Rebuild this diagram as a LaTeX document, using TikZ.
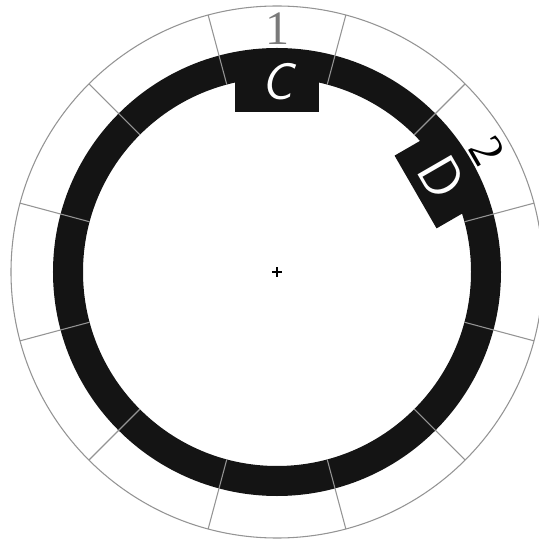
\documentclass[tikz,border=0pt]{standalone}
\usepackage{fontspec}
\setmainfont{Liberation Serif}
\begin{document}
\begin{tikzpicture}[
    x=0.75pt, y=0.75pt,
    ring/.style={draw=black!92, line width=22.5pt},
    rim/.style={draw=black!42, line width=0.8pt},
    spoke/.style={draw=black!42, line width=0.8pt},
    number/.style={inner sep=0pt, font=\fontsize{36}{36}\selectfont},
    letterbox/.style={fill=black!92, text=white, minimum width=63pt, minimum height=45pt, inner sep=0pt, font=\sffamily\fontsize{42}{42}\selectfont}
]
\useasboundingbox (-277,-269) rectangle (261,272);

% dial rim and the black track
\draw[rim] (0,0) circle (266);
\draw[ring] (0,0) circle (209);

% sector spokes
\draw[spoke] (15:194) -- (15:266)   (45:194) -- (45:266)   (75:194) -- (75:266)
             (105:194) -- (105:266) (135:194) -- (135:266) (165:194) -- (165:266)
             (195:194) -- (195:266) (225:194) -- (225:266) (255:194) -- (255:266)
             (285:194) -- (285:266) (315:194) -- (315:266) (345:194) -- (345:266);

% sector numbers
\node[number, text=black!52] (One) at (90:243) {1};
\node[number, text=black, rotate=-60] (Two) at (30:243) {2};

% letter boxes on the track
\node[letterbox] (BoxC) at (90:190) {\fontsize{39}{39}\selectfont\itshape C};
\node[letterbox, rotate=-60] (BoxD) at (30:190) {D};

% centre mark
\draw[line width=0.9pt] (-5,0) -- (5,0) (0,-5) -- (0,5);

\end{tikzpicture}
\end{document}
